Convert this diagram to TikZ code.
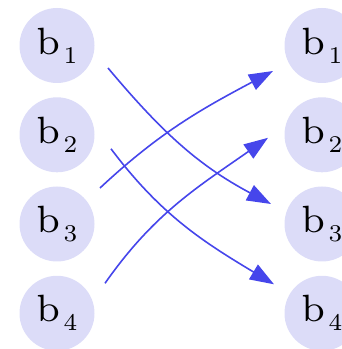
\documentclass[tikz,border=0pt]{standalone}
\usepackage{fontspec}
\newfontfamily\bfam{lmroman7-regular.otf}
\newfontfamily\sfam{lmroman7-regular.otf}
\usetikzlibrary{arrows.meta}
\definecolor{circfill}{RGB}{220,220,248}
\definecolor{arrblue}{RGB}{70,70,235}
\newcommand{\bsub}[1]{b\kern3pt\raisebox{-9pt}{\sfam\fontsize{24}{26}\selectfont #1}}
\tikzset{
  ball/.style={circle,fill=circfill,minimum size=75pt,inner sep=0pt,font=\bfam\fontsize{38}{42}\selectfont},
  link/.style={draw=arrblue,line width=1.6pt,-{Triangle[length=24pt,width=17pt]}}
}
\begin{document}
\begin{tikzpicture}[x=1pt,y=1pt]
\useasboundingbox (0,0) rectangle (342,349);
\clip (0,0) rectangle (342,349);
\node[ball] (L1) at (57,303.5) {\bsub{1}};
\node[ball] (L2) at (57,214.2) {\bsub{2}};
\node[ball] (L3) at (57,125) {\bsub{3}};
\node[ball] (L4) at (57,35.7) {\bsub{4}};
\node[ball] (R1) at (322,303.5) {\bsub{1}};
\node[ball] (R2) at (322,214.2) {\bsub{2}};
\node[ball] (R3) at (322,125) {\bsub{3}};
\node[ball] (R4) at (322,35.7) {\bsub{4}};
\coordinate (s1) at ([shift={(51,-22.5)}]L1.center);
\coordinate (e1) at ([shift={(-51,20)}]R3.center);
\coordinate (s2) at ([shift={(54,-14)}]L2.center);
\coordinate (e2) at ([shift={(-48,29)}]R4.center);
\coordinate (s3) at ([shift={(43,36)}]L3.center);
\coordinate (e3) at ([shift={(-49,-25.5)}]R1.center);
\coordinate (s4) at ([shift={(48,30)}]L4.center);
\coordinate (e4) at ([shift={(-54,-3)}]R2.center);
\draw[link] (s1) to[out=-50,in=152] (e1);
\draw[link] (s2) to[out=-53,in=149] (e2);
\draw[link] (s3) to[out=43,in=-152] (e3);
\draw[link] (s4) to[out=55,in=-145] (e4);
\end{tikzpicture}
\end{document}
